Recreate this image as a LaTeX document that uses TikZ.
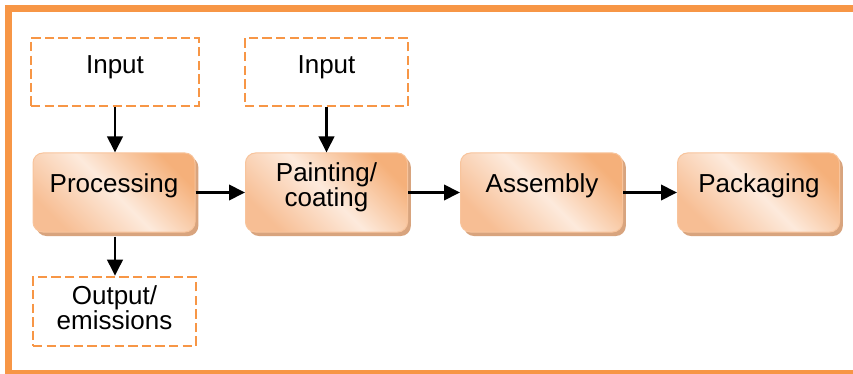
\documentclass[tikz,border=0pt]{standalone}
\usepackage{fontspec}
\setmainfont{Liberation Sans}
\usetikzlibrary{arrows.meta,shadows}
\definecolor{frameorange}{HTML}{F79646}
\definecolor{boxdark}{HTML}{F5B07A}
\definecolor{boxlight}{HTML}{FDEADC}
\definecolor{boxmid}{HTML}{F7BE94}
\definecolor{boxedge}{HTML}{F8C49C}
\definecolor{boxshadow}{HTML}{D8A47E}
\tikzset{
  stage/.style={rectangle, rounded corners=7.5pt, draw=boxedge, line width=0.75pt,
    minimum width=121.5pt, minimum height=59.25pt, inner sep=0pt,
    top color=boxdark, bottom color=boxmid, middle color=boxlight, shading angle=-45,
    drop shadow={shadow xshift=2.5pt, shadow yshift=-3pt, fill=boxshadow, opacity=1}},
  iobox/.style={rectangle, draw=frameorange, line width=1.9pt, dash pattern=on 7pt off 3.2pt,
    inner sep=0pt},
  lbl/.style={font=\fontsize{19.5pt}{18.4pt}\selectfont, inner sep=0pt, align=center},
  flowarrow/.style={line width=2pt, -{Triangle[length=12pt,width=11.5pt]}}
}
\begin{document}
\begin{tikzpicture}[x=0.75pt,y=-0.75pt]
\useasboundingbox (0,0) rectangle (853,374);
\fill[white] (0,0) rectangle (853,374);
\draw[frameorange, line width=5.25pt] (853,9) -- (8,9) -- (8,373.5) -- (853,373.5);
% dashed input/output boxes
\node[iobox, minimum width=126pt, minimum height=51pt] (in1) at (115,72) {};
\node[iobox, minimum width=122.25pt, minimum height=51pt] (in2) at (326.5,72) {};
\node[iobox, minimum width=122.25pt, minimum height=51.75pt] (out) at (114.5,311.5) {};
% stage boxes
\node[stage] (proc) at (114,192.5) {};
\node[stage] (paint) at (326.5,192.5) {};
\node[stage] (asm) at (541.5,192.5) {};
\node[stage] (pack) at (758.5,192.5) {};
% labels
\node[lbl, anchor=base] (in1t) at (115,74) {Input};
\node[lbl, anchor=base] (in2t) at (326.5,74) {Input};
\node[lbl, anchor=base] (proct) at (114,193) {Processing};
\node[lbl] (paintt) at (326.5,187.5) {Painting/\\coating};
\node[lbl, anchor=base] (asmt) at (542,193) {Assembly};
\node[lbl, anchor=base] (packt) at (759,193) {Packaging};
\node[lbl] (outt) at (114.5,307.5) {Output/\\emissions};
% connectors
\draw[flowarrow] (in1.south) -- (in1.south |- proc.north);
\draw[flowarrow] (in2.south) -- (paint.north);
\draw[flowarrow] (proc.east) -- (paint.west);
\draw[flowarrow] (paint.east) -- (asm.west);
\draw[flowarrow] (asm.east) -- (pack.west);
\draw[flowarrow] ([yshift=-3pt]proc.south -| in1.south) -- (out.north -| in1.south);
\end{tikzpicture}
\end{document}
